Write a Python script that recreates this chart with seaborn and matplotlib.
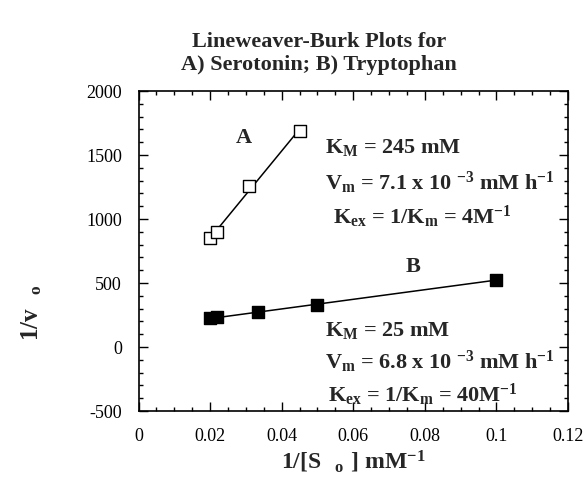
import numpy as np
import pandas as pd
import matplotlib
matplotlib.use("Agg")
import matplotlib.pyplot as plt
import seaborn as sns
from matplotlib.ticker import MultipleLocator

# ---- data ----
a_x = [0.020, 0.022, 0.031, 0.045]
a_y = [850, 900, 1255, 1690]
b_x = [0.020, 0.022, 0.0333, 0.050, 0.100]
b_y = [225, 232, 270, 330, 525]
x_ticks = [0, 0.02, 0.04, 0.06, 0.08, 0.1, 0.12]
x_tick_labels = ["0", "0.02", "0.04", "0.06", "0.08", "0.1", "0.12"]
y_ticks = [-500, 0, 500, 1000, 1500, 2000]
y_tick_labels = ["-500", "0", "500", "1000", "1500", "2000"]

sns.set_theme(style="white")
plt.rcParams["font.family"] = ["Liberation Serif", "DejaVu Serif"]
plt.rcParams["axes.unicode_minus"] = False
plt.rcParams["mathtext.fontset"] = "custom"
plt.rcParams["mathtext.rm"] = "Liberation Serif:bold"
plt.rcParams["mathtext.bf"] = "Liberation Serif:bold"
plt.rcParams["mathtext.it"] = "Liberation Serif:bold"
plt.rcParams["mathtext.default"] = "bf"

df_a = pd.DataFrame({"x": a_x, "y": a_y})
df_b = pd.DataFrame({"x": b_x, "y": b_y})

fig = plt.figure(figsize=(5.87, 4.78), dpi=100)
ax = fig.add_axes([138.5 / 587, 1 - 411 / 478, (568 - 138.5) / 587, (411 - 91) / 478])

# fitted lines
ka, ba = np.polyfit(a_x, a_y, 1)
xa = np.array([a_x[1], a_x[-1]])
ax.plot(xa, ka * xa + ba, color="black", lw=1.1, zorder=2)
kb, bb = np.polyfit(b_x, b_y, 1)
xb = np.array([b_x[0], b_x[-1]])
ax.plot(xb, kb * xb + bb, color="black", lw=1.1, zorder=2)

sns.scatterplot(data=df_a, x="x", y="y", marker="s", s=75, facecolor="white",
                edgecolor="black", linewidth=1.0, ax=ax, zorder=3)
sns.scatterplot(data=df_b, x="x", y="y", marker="s", s=75, color="black",
                edgecolor="black", linewidth=1.0, ax=ax, zorder=3)

ax.set_xlim(0, 0.12)
ax.set_ylim(-500, 2000)
ax.set_xticks(x_ticks)
ax.set_xticklabels(x_tick_labels)
ax.set_yticks(y_ticks)
ax.set_yticklabels(y_tick_labels)
ax.xaxis.set_minor_locator(MultipleLocator(0.005))
ax.yaxis.set_minor_locator(MultipleLocator(100))
ax.tick_params(which="both", direction="in", top=True, right=True, bottom=True, left=True,
               color="black", width=1.0, labelsize=13, labelcolor="black")
ax.tick_params(which="major", length=6.5, pad=12)
ax.tick_params(which="minor", length=3)
for s in ax.spines.values():
    s.set_color("black")
    s.set_linewidth(1.2)
ax.set_xlabel("")
ax.set_ylabel("")

# axis labels
fig.text(32 / 587, 1 - 313 / 478, r"$1/v_{\quad o}$", rotation=90, ha="center", va="center",
         fontsize=18)
fig.text(353 / 587, 1 - 462 / 478, r"1/[S$_{\quad o\;\;}$] mM$^{-1}$", ha="center",
         va="center", fontsize=17, fontweight="bold")

# title
fig.text(319 / 587, 1 - 42 / 478, "Lineweaver-Burk Plots for", ha="center", va="center",
         fontsize=16, fontweight="bold")
fig.text(319 / 587, 1 - 65 / 478, "A) Serotonin; B) Tryptophan", ha="center", va="center",
         fontsize=16, fontweight="bold")

# annotations
tk = dict(transform=ax.transAxes, fontsize=16, fontweight="bold", va="center", ha="left")
ax.text(0.246, 0.853, "A", ha="center", va="center", transform=ax.transAxes,
        fontsize=16, fontweight="bold")
ax.text(0.639, 0.45, "B", ha="center", va="center", transform=ax.transAxes,
        fontsize=16, fontweight="bold")
ax.text(0.434, 0.825, r"K$_{M}$ = 245 mM", **tk)
ax.text(0.434, 0.7125, r"V$_{m}$ = 7.1 x 10 $^{-3}$ mM h$^{-1}$", **tk)
ax.text(0.453, 0.606, r"K$_{ex}$ = 1/K$_{m}$ = 4M$^{-1}$", **tk)
ax.text(0.434, 0.253, r"K$_{M}$ = 25 mM", **tk)
ax.text(0.434, 0.153, r"V$_{m}$ = 6.8 x 10 $^{-3}$ mM h$^{-1}$", **tk)
ax.text(0.441, 0.05, r"K$_{ex}$ = 1/K$_{m}$ = 40M$^{-1}$", **tk)

fig.savefig("out.png", dpi=100)
